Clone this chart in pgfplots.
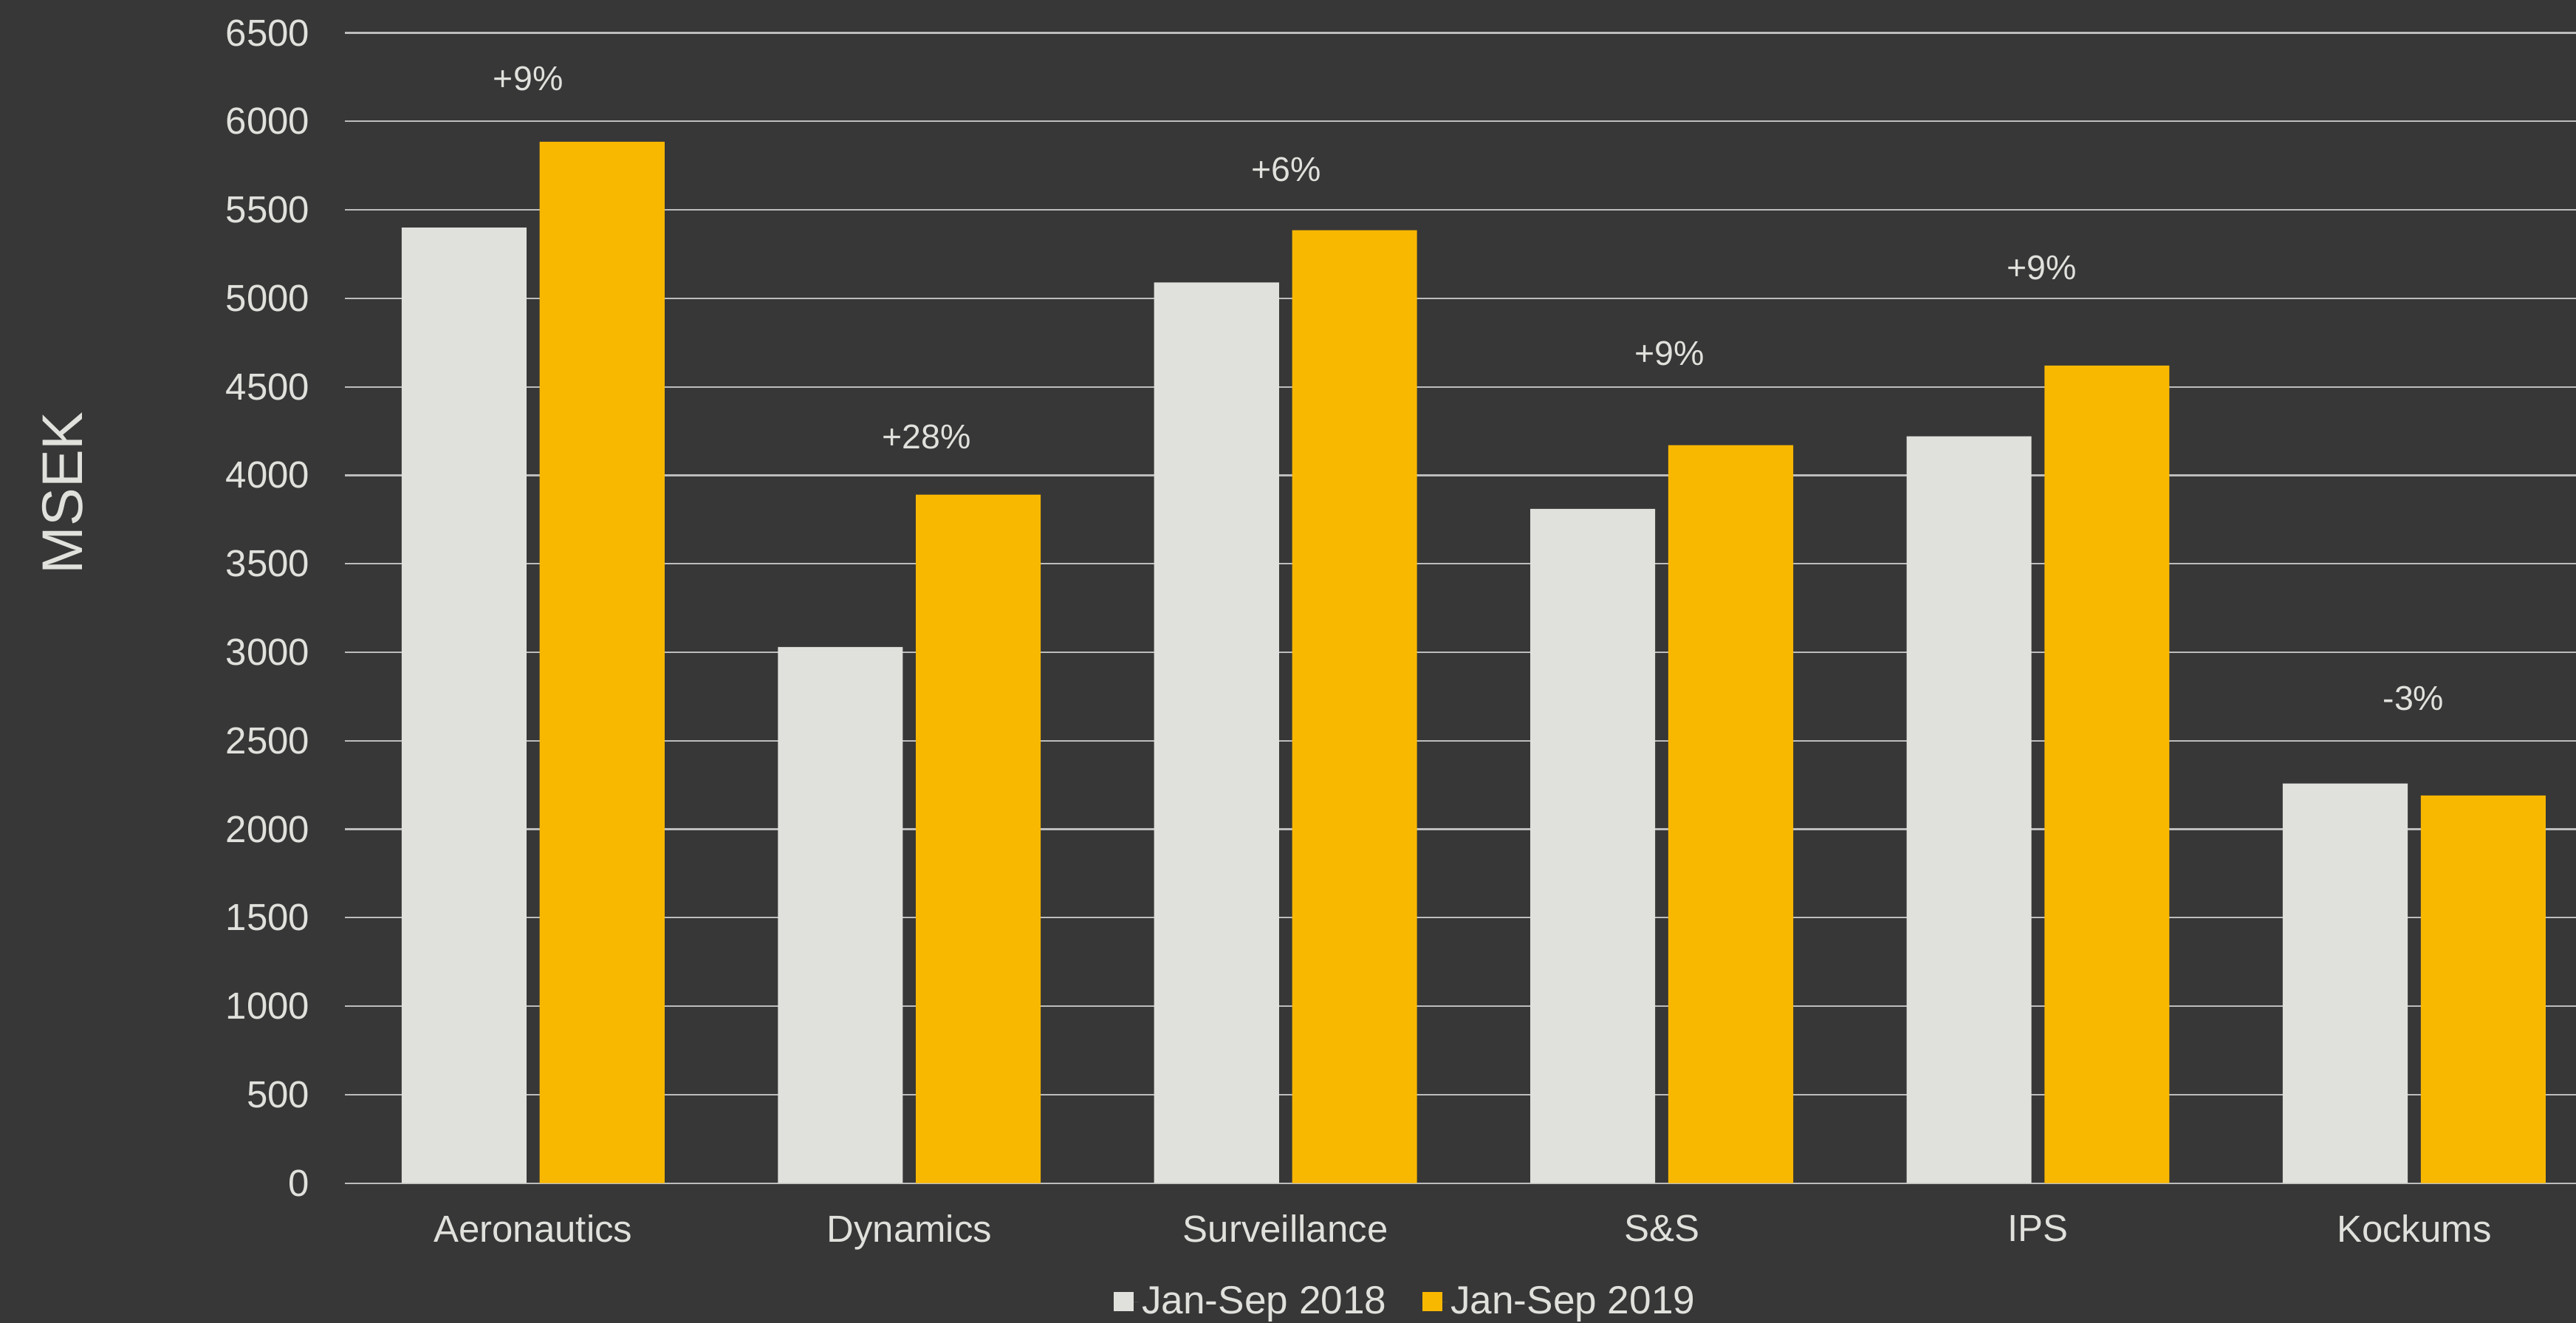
\documentclass[border=0pt]{standalone}
\usepackage{pgfplots}
\pgfplotsset{compat=1.18}
\usepackage{fontspec}
\setmainfont{Liberation Sans}
\definecolor{bg}{HTML}{373737}
\definecolor{lightbar}{HTML}{E0E1DC}
\definecolor{goldbar}{HTML}{F9B800}
\definecolor{txt}{HTML}{E0E1DC}
\definecolor{gridc}{HTML}{BDBDBD}
\begin{document}
\begin{tikzpicture}
\fill[bg] (-210bp,-85bp) rectangle (1358bp,720bp);
\useasboundingbox (-210bp,-85bp) rectangle (1358bp,720bp);
\begin{axis}[
  at={(0,0)}, anchor=south west,
  scale only axis, width=1358bp, height=700bp,
  xmin=-0.5, xmax=5.43, ymin=0, ymax=6500,
  ybar=8bp, bar width=76bp,
  axis line style={draw=none},
  major tick length=0pt,
  ytick={0,500,...,6500},
  ymajorgrids, grid style={gridc, line width=1bp},
  xtick={0,1,2,3,4,5},
  xticklabels={Aeronautics,Dynamics,Surveillance,S\&S,IPS,Kockums},
  tick label style={font=\fontsize{23}{23}\selectfont, text=txt},
  /pgf/number format/assume math mode=true,
  /pgf/number format/1000 sep={},
  xticklabel style={yshift=-16bp},
  yticklabel style={xshift=-18bp},
  ylabel={MSEK},
  ylabel style={at={(axis description cs:-0.1267,0.6)}, anchor=center, font=\fontsize{35}{35}\selectfont, text=txt},
  legend style={at={(axis description cs:0.4757,-0.103)}, anchor=center, draw=none, fill=none,
    legend columns=2, font=\fontsize{24}{24}\selectfont, text=txt,
    /tikz/every even column/.append style={column sep=20bp}},
  legend image code/.code={\fill[#1] (0bp,-6bp) rectangle (12bp,6bp); \path (0bp,0bp) -- (15bp,0bp);},
]
\addplot[fill=lightbar, draw=none] coordinates {(0,5400) (1,3030) (2,5090) (3,3810) (4,4220) (5,2258)};
\addlegendentry{Jan-Sep 2018}
\addplot[fill=goldbar, draw=none] coordinates {(0,5885) (1,3890) (2,5385) (3,4170) (4,4620) (5,2190)};
\addlegendentry{Jan-Sep 2019}
\begin{scope}[every node/.style={font=\fontsize{21}{21}\selectfont, text=txt, anchor=center}]
\node at (axis cs:-0.013,6240) {+9\%};
\node at (axis cs:1.046,4216) {+28\%};
\node at (axis cs:2.002,5729) {+6\%};
\node at (axis cs:3.02,4689) {+9\%};
\node at (axis cs:4.01,5172) {+9\%};
\node at (axis cs:4.998,2739) {-3\%};
\end{scope}
\end{axis}
\end{tikzpicture}
\end{document}
